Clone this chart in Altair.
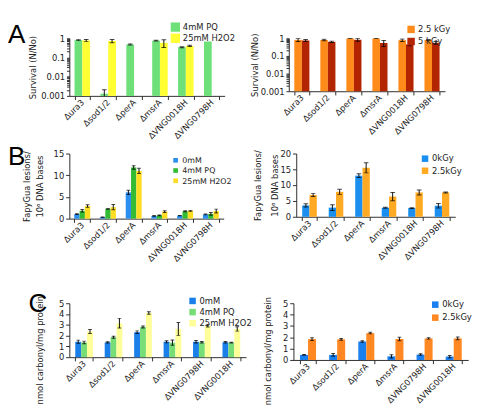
import altair as alt
import pandas as pd

FONT = "DejaVu Sans"
TXT = "#222222"

# ---------------- data ----------------
cats_ab = ["Δura3", "Δsod1/2", "ΔperA", "ΔmsrA", "ΔVNG0018H", "ΔVNG0798H"]
cats_c = ["Δura3", "Δsod1/2", "ΔperA", "ΔmsrA", "ΔVNG0798H", "ΔVNG0018H"]

# A left: survival, oxidants (log)
a1_series = ["4mM PQ", "25mM H2O2"]
a1_pq = [0.80, 0.0013, 0.48, 0.75, 0.34, 0.68]
a1_pq_err = [0.05, 0.0008, 0.03, 0.04, 0.02, 0.0]
a1_h2o2 = [0.77, 0.72, None, 0.58, 0.40, None]
a1_h2o2_err = [0.10, 0.14, None, 0.25, 0.03, None]
a1_colors = ["#6ee07a", "#ffff33"]

# A right: survival, IR (log)
a2_series = ["2.5 kGy", "5 kGy"]
a2_25 = [0.81, 0.80, 0.97, 0.97, 0.78, 0.80]
a2_25_err = [0.15, 0.07, 0.02, 0.02, 0.12, 0.02]
a2_5 = [0.75, 0.63, 0.82, 0.54, 0.45, 0.55]
a2_5_err = [0.10, 0.06, 0.15, 0.20, 0.08, 0.10]
a2_colors = ["#ff8c1a", "#b32400"]

# B left: FapyGua, oxidants
b1_series = ["0mM", "4mM PQ", "25mM H2O2"]
b1_0 = [1.05, 0.35, 6.05, 0.62, 0.70, 0.97]
b1_0_err = [0.10, 0.05, 0.50, 0.10, 0.05, 0.10]
b1_pq = [1.80, 2.27, 11.8, 0.76, 1.70, 1.10]
b1_pq_err = [0.30, 0.10, 0.40, 0.10, 0.10, 0.30]
b1_h2o2 = [2.90, 2.65, 11.0, 1.60, 1.80, 1.75]
b1_h2o2_err = [0.30, 0.60, 0.60, 0.20, 0.10, 0.45]
b1_colors = ["#2a8fef", "#33bb33", "#ffdd22"]

# B right: FapyGua, IR
b2_series = ["0kGy", "2.5kGy"]
b2_0 = [3.6, 2.9, 13.0, 2.85, 2.75, 3.5]
b2_0_err = [0.5, 0.9, 0.6, 0.15, 0.1, 0.7]
b2_25 = [6.9, 7.9, 15.5, 6.4, 7.7, 7.7]
b2_25_err = [0.5, 0.8, 1.6, 1.3, 0.8, 0.15]
b2_colors = ["#1a8ff0", "#ffaa22"]

# C left: carbonyl, oxidants
c1_series = ["0mM", "4mM PQ", "25mM H2O2"]
c1_0 = [1.43, 1.37, 2.32, 1.43, 1.43, 1.38]
c1_0_err = [0.15, 0.06, 0.12, 0.10, 0.12, 0.07]
c1_pq = [1.37, 1.85, 2.80, 1.35, 1.38, 1.35]
c1_pq_err = [0.12, 0.10, 0.10, 0.25, 0.07, 0.03]
c1_h2o2 = [2.38, 3.15, 4.10, 2.62, 2.92, 2.62]
c1_h2o2_err = [0.18, 0.45, 0.12, 0.60, 0.12, 0.20]
c1_colors = ["#1a7fe8", "#77dd77", "#ffff99"]

# C right: carbonyl, IR
c2_series = ["0kGy", "2.5kGy"]
c2_0 = [0.45, 0.45, 1.63, 0.32, 0.48, 0.30]
c2_0_err = [0.04, 0.12, 0.06, 0.14, 0.07, 0.10]
c2_25 = [1.84, 1.82, 2.37, 1.85, 1.90, 1.90]
c2_25_err = [0.12, 0.08, 0.07, 0.15, 0.06, 0.12]
c2_colors = ["#1a80f0", "#ff8822"]

log_ticks = [0.001, 0.002, 0.003, 0.004, 0.005, 0.006, 0.007, 0.008, 0.009,
             0.01, 0.02, 0.03, 0.04, 0.05, 0.06, 0.07, 0.08, 0.09,
             0.1, 0.2, 0.3, 0.4, 0.5, 0.6, 0.7, 0.8, 0.9, 1]


def make_panel(cats, series, vals, errs, colors, w, h, ydomain, yvals, ytitle,
               log, leg_x, leg_y, sym, leg_row, pad_inner, cap, title_pad,
               letter=None, letter_x=0, letter_y=0, title_y=None, title_lh=None,
               leg_font=9):
    rows = []
    for s, vs, es in zip(series, vals, errs):
        for c, v, e in zip(cats, vs, es):
            if v is None:
                continue
            rows.append({"cat": c, "series": s, "v": v,
                         "lo": v - e, "hi": v + e, "err": e})
    df = pd.DataFrame(rows)
    base = alt.Chart(df)

    xenc = alt.X("cat:N", sort=cats,
                 scale=alt.Scale(paddingInner=pad_inner, paddingOuter=pad_inner / 2),
                 axis=alt.Axis(title=None, labelAngle=-45, labelAlign="right",
                               labelBaseline="middle", tickBand="extent",
                               tickSize=4, labelPadding=1))
    xo = alt.XOffset("series:N", sort=series, scale=alt.Scale(domain=series))

    ax_kw = dict(title=ytitle, values=yvals, grid=False, titlePadding=title_pad)
    if title_y is not None:
        ax_kw["titleY"] = title_y
    if title_lh is not None:
        ax_kw["titleLineHeight"] = title_lh
    if log:
        yscale = alt.Scale(type="log", domain=ydomain)
        is_pow = "abs(log(datum.value)/LN10 - round(log(datum.value)/LN10)) < 0.000001"
        yaxis = alt.Axis(labelExpr=is_pow + " ? format(datum.value, '~g') : ''",
                         tickSize=3, labelOverlap=False, **ax_kw)
    else:
        yscale = alt.Scale(domain=ydomain)
        yaxis = alt.Axis(tickSize=4, **ax_kw)

    ybar = alt.Y("v:Q", scale=yscale, axis=yaxis)
    bar_enc = dict(x=xenc, xOffset=xo, y=ybar,
                   color=alt.Color("series:N", sort=series,
                                   scale=alt.Scale(domain=series, range=colors),
                                   legend=alt.Legend(orient="none", legendX=leg_x, legendY=leg_y,
                                                     title=None, direction="vertical",
                                                     symbolType="square", symbolSize=sym,
                                                     symbolStrokeWidth=0, labelFontSize=leg_font,
                                                     labelFont=FONT, labelColor=TXT,
                                                     rowPadding=leg_row, labelOffset=3,
                                                     padding=0)))
    if log:
        bar_enc["y2"] = alt.datum(ydomain[0])
    bars = base.mark_bar().encode(**bar_enc)

    eb = base.transform_filter("datum.err > 0")
    rule = eb.mark_rule(color="black", strokeWidth=1, clip=True).encode(
        x=xenc, xOffset=xo, y=alt.Y("lo:Q", scale=yscale, axis=yaxis), y2="hi:Q")
    cap_lo = eb.mark_tick(color="black", thickness=1, size=cap, orient="horizontal", clip=True).encode(
        x=xenc, xOffset=xo, y=alt.Y("lo:Q", scale=yscale, axis=yaxis))
    cap_hi = eb.mark_tick(color="black", thickness=1, size=cap, orient="horizontal", clip=True).encode(
        x=xenc, xOffset=xo, y=alt.Y("hi:Q", scale=yscale, axis=yaxis))

    layers = [bars, rule, cap_lo, cap_hi]
    if letter is not None:
        lab = alt.Chart(pd.DataFrame({"t": [letter]})).mark_text(
            align="left", baseline="top", fontSize=28, font="Liberation Sans",
            color="black").encode(text="t:N", x=alt.value(letter_x), y=alt.value(letter_y))
        layers.append(lab)
    return alt.layer(*layers).properties(width=w, height=h)


def indep(c):
    return c.resolve_scale(color="independent", xOffset="independent").resolve_legend(
        color="independent")


A1 = make_panel(cats_ab, a1_series, [a1_pq, a1_h2o2], [a1_pq_err, a1_h2o2_err], a1_colors,
                167, 62, [0.001, 1], log_ticks, "Survival (N/No)", True,
                109, -17, 100, 2, 0.4, 5, 4, letter="A", letter_x=-66, letter_y=-17)
A2 = make_panel(cats_ab, a2_series, [a2_25, a2_5], [a2_25_err, a2_5_err], a2_colors,
                168, 57, [0.001, 1], log_ticks, "Survival (N/No)", True,
                127, -14, 64, 3, 0.42, 5, 1)
B1 = make_panel(cats_ab, b1_series, [b1_0, b1_pq, b1_h2o2], [b1_0_err, b1_pq_err, b1_h2o2_err],
                b1_colors, 166, 70, [0, 15], [0, 5, 10, 15],
                ["FapyGua lesions/", "10⁶ DNA bases"], False,
                110, 3, 25, 2, 0.38, 4, 9, letter="B", letter_x=-66, letter_y=-10,
                title_lh=14, leg_font=8.5)
B2 = make_panel(cats_ab, b2_series, [b2_0, b2_25], [b2_0_err, b2_25_err], b2_colors,
                171, 68, [0, 20], [0, 5, 10, 15, 20],
                ["FapyGua lesions/", "10⁶ DNA bases"], False,
                134, 1, 49, 3, 0.45, 5, 1, title_lh=18)
C1 = make_panel(cats_c, c1_series, [c1_0, c1_pq, c1_h2o2], [c1_0_err, c1_pq_err, c1_h2o2_err],
                c1_colors, 190, 58, [0, 5], [0, 1, 2, 3, 4, 5],
                "nmol carbonyl/mg protein", False,
                128, -7, 49, 2, 0.4, 4, 15, letter="C", letter_x=-44, letter_y=-13,
                title_y=50)
C2 = make_panel(cats_c, c2_series, [c2_0, c2_25], [c2_0_err, c2_25_err], c2_colors,
                188, 61, [0, 5], [0, 1, 2, 3, 4, 5],
                "nmol carbonyl/mg protein", False,
                148, -3, 49, 4, 0.45, 4, 11, title_y=51)

rowA = indep(alt.hconcat(A1, A2, spacing=16))
rowB = indep(alt.hconcat(B1, B2, spacing=23))
rowC = indep(alt.hconcat(C1, C2, spacing=12))

inner = indep(alt.vconcat(rowA, rowB, spacing=4))
chart = indep(alt.vconcat(inner, rowC, spacing=30)).properties(
    padding={"left": 0, "top": 0, "right": 0, "bottom": 0},
    background="white",
).configure_view(stroke=None).configure_axis(
    domainColor=TXT, tickColor=TXT, labelColor=TXT, labelFont=FONT, labelFontSize=9,
    titleFont=FONT, titleFontSize=9, titleFontWeight="normal", titleColor=TXT,
    domainWidth=1, tickWidth=1,
)

chart.save("out.html", embed_options={"renderer": "svg", "actions": False})
